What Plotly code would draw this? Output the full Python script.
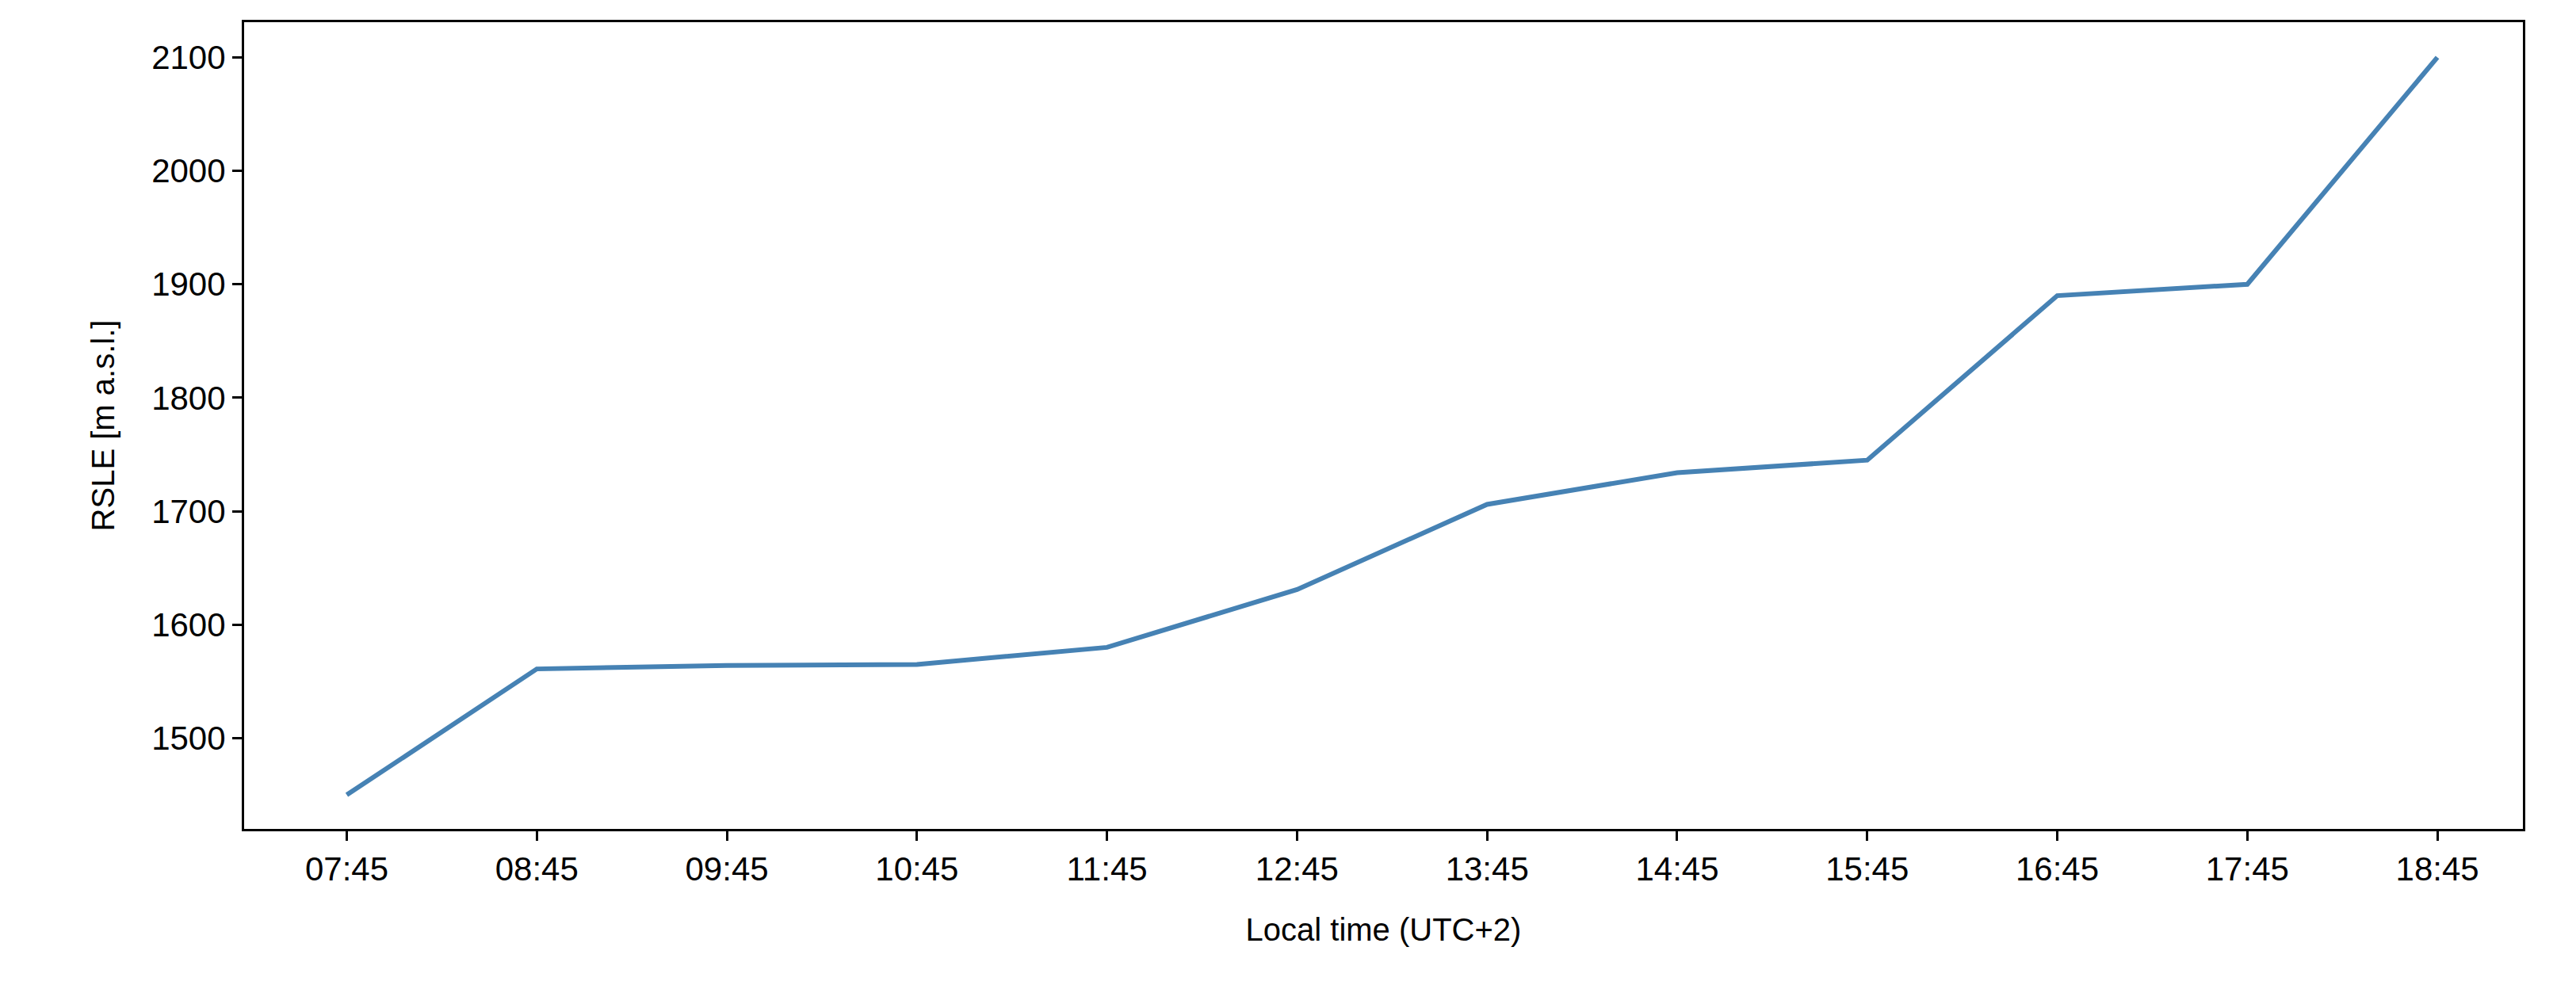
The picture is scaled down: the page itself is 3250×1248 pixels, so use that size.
import plotly.graph_objects as go

times = ["07:45","08:45","09:45","10:45","11:45","12:45","13:45","14:45","15:45","16:45","17:45","18:45"]
rsle = [1450, 1561, 1564, 1565, 1580, 1631, 1706, 1734, 1745, 1890, 1900, 2100]

fig = go.Figure(go.Scatter(x=list(range(len(times))), y=rsle, mode="lines",
                           line=dict(color="#4682b4", width=6)))
axis_common = dict(showline=True, linecolor="black", linewidth=3, mirror=True,
                   ticks="outside", ticklen=12, tickwidth=3, tickcolor="black",
                   showgrid=False, zeroline=False,
                   tickfont=dict(size=42, color="black"))
fig.update_xaxes(tickvals=list(range(len(times))), ticktext=times,
                 range=[-0.54, 11.45],
                 title=dict(text="Local time (UTC+2)", font=dict(size=40, color="black"), standoff=40),
                 **axis_common)
fig.update_yaxes(range=[1420, 2131], dtick=100,
                 title=dict(text="RSLE [m a.s.l.]", font=dict(size=40, color="black"), standoff=35),
                 **axis_common)
fig.update_layout(width=3250, height=1248, plot_bgcolor="white", paper_bgcolor="white",
                  font=dict(family="Liberation Sans"), showlegend=False,
                  margin=dict(l=300, r=75, t=20, b=210))
fig.write_html("out.html")
